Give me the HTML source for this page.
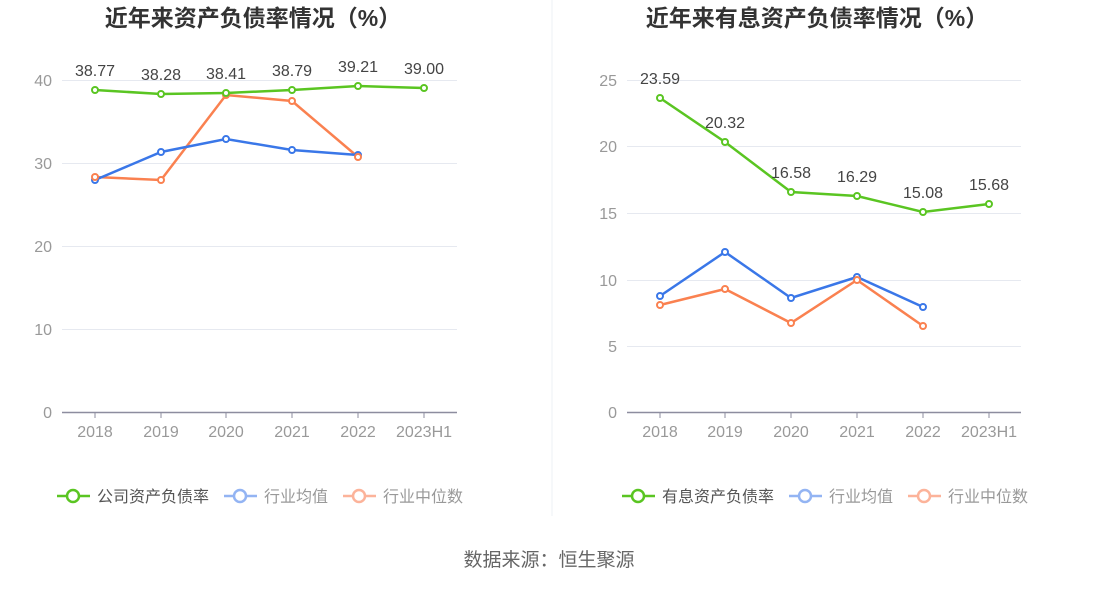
<!DOCTYPE html>
<html><head><meta charset="utf-8"><style>
body{margin:0;background:#fff;}
svg text{font-family:"Liberation Sans","Noto Sans CJK SC",sans-serif;}
</style></head><body>
<svg width="1098" height="586" xmlns="http://www.w3.org/2000/svg">
<line x1="552" y1="0" x2="552" y2="516" stroke="#eef0f4" stroke-width="1"/>
<text x="253" y="26" text-anchor="middle" font-size="23" font-weight="bold" fill="#333">近年来资产负债率情况（%）</text>
<text x="817" y="26" text-anchor="middle" font-size="23" font-weight="bold" fill="#333">近年来有息资产负债率情况（%）</text>
<g stroke="#e6e9f0" stroke-width="1">
<line x1="62" y1="80.5" x2="457" y2="80.5"/><line x1="62" y1="163.5" x2="457" y2="163.5"/><line x1="62" y1="246.5" x2="457" y2="246.5"/><line x1="62" y1="329.5" x2="457" y2="329.5"/>
<line x1="627" y1="80.5" x2="1021" y2="80.5"/><line x1="627" y1="146.5" x2="1021" y2="146.5"/><line x1="627" y1="213.5" x2="1021" y2="213.5"/><line x1="627" y1="280.5" x2="1021" y2="280.5"/><line x1="627" y1="346.5" x2="1021" y2="346.5"/>
</g>
<g stroke="#8d8d9f" stroke-width="1.5">
<line x1="62" y1="412.5" x2="457" y2="412.5"/><line x1="627" y1="412.5" x2="1021" y2="412.5"/>
</g>
<g stroke="#8d8d9f" stroke-width="1">
<line x1="95" y1="412" x2="95" y2="418"/><line x1="161" y1="412" x2="161" y2="418"/><line x1="226" y1="412" x2="226" y2="418"/><line x1="292" y1="412" x2="292" y2="418"/><line x1="358" y1="412" x2="358" y2="418"/><line x1="424" y1="412" x2="424" y2="418"/>
<line x1="660" y1="412" x2="660" y2="418"/><line x1="725" y1="412" x2="725" y2="418"/><line x1="791" y1="412" x2="791" y2="418"/><line x1="857" y1="412" x2="857" y2="418"/><line x1="923" y1="412" x2="923" y2="418"/><line x1="989" y1="412" x2="989" y2="418"/>
</g>
<g font-size="16" fill="#999" text-anchor="end">
<text x="52" y="86">40</text><text x="52" y="169">30</text><text x="52" y="252">20</text><text x="52" y="335">10</text><text x="52" y="418">0</text>
<text x="617" y="86">25</text><text x="617" y="152">20</text><text x="617" y="219">15</text><text x="617" y="286">10</text><text x="617" y="352">5</text><text x="617" y="418">0</text>
</g>
<g font-size="16" fill="#999" text-anchor="middle">
<text x="95" y="437">2018</text><text x="161" y="437">2019</text><text x="226" y="437">2020</text><text x="292" y="437">2021</text><text x="358" y="437">2022</text><text x="424" y="437">2023H1</text>
<text x="660" y="437">2018</text><text x="725" y="437">2019</text><text x="791" y="437">2020</text><text x="857" y="437">2021</text><text x="923" y="437">2022</text><text x="989" y="437">2023H1</text>
</g>
<g fill="none" stroke-width="2.5">
<polyline stroke="#fa8150" points="95,177 161,180 226,95 292,101 358,157"/>
<polyline stroke="#3a77e8" points="95,180 161,152 226,139 292,150 358,155"/>
<polyline stroke="#5ac522" points="95,90 161,94 226,93 292,90 358,86 424,88"/>
<polyline stroke="#fa8150" points="660,305 725,289 791,323 857,280 923,326"/>
<polyline stroke="#3a77e8" points="660,296 725,252 791,298 857,277 923,307"/>
<polyline stroke="#5ac522" points="660,98 725,142 791,192 857,196 923,212 989,204"/>
</g>
<g fill="#fff" stroke-width="2">
<g stroke="#3a77e8"><circle cx="95" cy="180" r="3"/><circle cx="161" cy="152" r="3"/><circle cx="226" cy="139" r="3"/><circle cx="292" cy="150" r="3"/><circle cx="358" cy="155" r="3"/>
<circle cx="660" cy="296" r="3"/><circle cx="725" cy="252" r="3"/><circle cx="791" cy="298" r="3"/><circle cx="857" cy="277" r="3"/><circle cx="923" cy="307" r="3"/></g>
<g stroke="#fa8150"><circle cx="95" cy="177" r="3"/><circle cx="161" cy="180" r="3"/><circle cx="226" cy="95" r="3"/><circle cx="292" cy="101" r="3"/><circle cx="358" cy="157" r="3"/>
<circle cx="660" cy="305" r="3"/><circle cx="725" cy="289" r="3"/><circle cx="791" cy="323" r="3"/><circle cx="857" cy="280" r="3"/><circle cx="923" cy="326" r="3"/></g>
<g stroke="#5ac522"><circle cx="95" cy="90" r="3"/><circle cx="161" cy="94" r="3"/><circle cx="226" cy="93" r="3"/><circle cx="292" cy="90" r="3"/><circle cx="358" cy="86" r="3"/><circle cx="424" cy="88" r="3"/>
<circle cx="660" cy="98" r="3"/><circle cx="725" cy="142" r="3"/><circle cx="791" cy="192" r="3"/><circle cx="857" cy="196" r="3"/><circle cx="923" cy="212" r="3"/><circle cx="989" cy="204" r="3"/></g>
</g>
<g font-size="16" fill="#444" text-anchor="middle">
<text x="95" y="76">38.77</text><text x="161" y="80">38.28</text><text x="226" y="79">38.41</text><text x="292" y="76">38.79</text><text x="358" y="72">39.21</text><text x="424" y="74">39.00</text>
<text x="660" y="84">23.59</text><text x="725" y="128">20.32</text><text x="791" y="178">16.58</text><text x="857" y="182">16.29</text><text x="923" y="198">15.08</text><text x="989" y="190">15.68</text>
</g>
<g stroke-width="2.5" fill="#fff">
<line x1="57" y1="496" x2="90" y2="496" stroke="#5ac522"/><circle cx="73" cy="496" r="6" stroke="#5ac522"/>
<line x1="224" y1="496" x2="257" y2="496" stroke="#93b4f3"/><circle cx="240" cy="496" r="6" stroke="#93b4f3"/>
<line x1="343" y1="496" x2="376" y2="496" stroke="#fcb39a"/><circle cx="359" cy="496" r="6" stroke="#fcb39a"/>
<line x1="622" y1="496" x2="655" y2="496" stroke="#5ac522"/><circle cx="638" cy="496" r="6" stroke="#5ac522"/>
<line x1="789" y1="496" x2="822" y2="496" stroke="#93b4f3"/><circle cx="805" cy="496" r="6" stroke="#93b4f3"/>
<line x1="908" y1="496" x2="941" y2="496" stroke="#fcb39a"/><circle cx="924" cy="496" r="6" stroke="#fcb39a"/>
</g>
<g font-size="16">
<text x="97" y="502" fill="#555">公司资产负债率</text><text x="264" y="502" fill="#999">行业均值</text><text x="383" y="502" fill="#999">行业中位数</text>
<text x="662" y="502" fill="#555">有息资产负债率</text><text x="829" y="502" fill="#999">行业均值</text><text x="948" y="502" fill="#999">行业中位数</text>
</g>
<text x="549" y="566" text-anchor="middle" font-size="19" fill="#666">数据来源：恒生聚源</text>
</svg>
</body></html>
